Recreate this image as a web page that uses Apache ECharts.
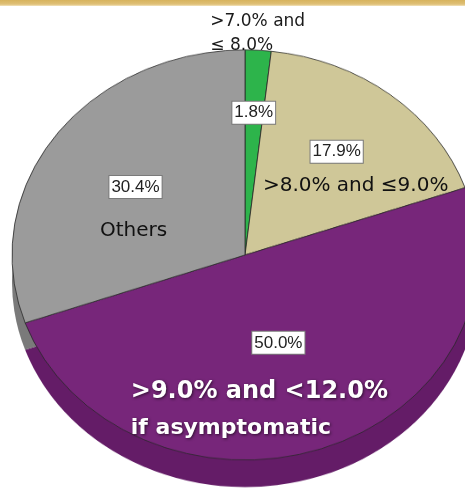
<!DOCTYPE html>
<html><head><meta charset="utf-8">
<script src="https://cdn.jsdelivr.net/npm/echarts@6/dist/echarts.min.js"></script>
<style>
html,body{margin:0;padding:0;background:#fff;overflow:hidden;width:465px;height:490px}
#pie{position:absolute;left:0;top:0;width:465px;height:560px;transform:scaleY(0.88);transform-origin:0 0}
#lab{position:absolute;left:0;top:0;width:465px;height:490px}
</style></head><body>
<div id="pie"></div><div id="lab"></div>
<script>
// ---- data ----
const categories = ['>7.0% and\n≤ 8.0%', '>8.0% and ≤9.0%', '>9.0% and <12.0%\nif asymptomatic', 'Others'];
const shares = [1.8, 17.9, 50.0, 30.4];

// ---- styling ----
const topColors = ['#2db44b', '#cfc798', '#77267a', '#9b9b9b'];
const sideColors = ['#22903a', '#aaa37a', '#641c67', '#7a7a7a'];
const pctOffsets = [[2, -23], [17, -10], [-6, -25], [-12, 1]];
const nameOffsets = [[6, -102], [36, 24], [-25, 42], [-14, 45]];
const nameStyles = [['g', 'g'], ['t'], ['p1', 'p2'], ['t']];

const K = 0.88, CX = 245, CY = 255, R = 233, DEPTH = 27;

const pieChart = echarts.init(document.getElementById('pie'), null, {renderer: 'canvas'});
const labChart = echarts.init(document.getElementById('lab'), null, {renderer: 'canvas'});

function items(colors, border) {
  return categories.map((c, i) => ({
    name: c, value: shares[i],
    itemStyle: {color: colors[i], borderColor: border, borderWidth: border ? 1 : 0}
  }));
}

pieChart.setOption({
  animation: false,
  series: [
    {type: 'pie', z: 1, center: [CX, (CY + DEPTH) / K], radius: [0, R], startAngle: 90, clockwise: true,
     silent: true, emphasis: {disabled: true}, label: {show: false}, labelLine: {show: false},
     data: items(sideColors, null)},
    {type: 'pie', z: 2, center: [CX, CY / K], radius: [0, R], startAngle: 90, clockwise: true,
     silent: true, emphasis: {disabled: true}, label: {show: false}, labelLine: {show: false},
     data: items(topColors, 'rgba(40,40,40,0.8)')}
  ]
});

const shadow = {textShadowColor: 'rgba(0,0,0,0.6)', textShadowBlur: 3, textShadowOffsetX: 1, textShadowOffsetY: 1};

labChart.setOption({
  animation: false,
  graphic: [{
    type: 'rect', left: 0, top: 0, shape: {width: 465, height: 6}, silent: true,
    style: {fill: new echarts.graphic.LinearGradient(0, 0, 0, 1, [
      {offset: 0, color: '#d7b35c'}, {offset: 0.7, color: '#dfc078'}, {offset: 1, color: '#f3e4bd'}])}
  }],
  series: [
    {type: 'pie', center: [CX, CY], radius: [0, R], startAngle: 90, clockwise: true, silent: true,
     emphasis: {disabled: true}, itemStyle: {color: 'rgba(0,0,0,0)', borderWidth: 0}, labelLine: {show: false},
     label: {show: true, position: 'inside', overflow: 'none',
       formatter: p => p.value.toFixed(1) + '%',
       fontFamily: 'Liberation Sans', fontSize: 17, color: '#222',
       backgroundColor: '#fff', borderColor: '#7a7a7a', borderWidth: 1, padding: [3, 2, 2, 2]},
     data: categories.map((c, i) => ({name: c, value: shares[i], label: {offset: pctOffsets[i]}}))},
    {type: 'pie', center: [CX, CY], radius: [0, R], startAngle: 90, clockwise: true, silent: true,
     emphasis: {disabled: true}, itemStyle: {color: 'rgba(0,0,0,0)', borderWidth: 0}, labelLine: {show: false},
     label: {show: true, position: 'inside', overflow: 'none',
       formatter: p => {
         const st = nameStyles[p.dataIndex];
         return p.name.split('\n').map((l, j) => '{' + (st[j] || st[0]) + '|' + l + '}').join('\n');
       },
       rich: {
         g: {fontFamily: 'DejaVu Sans', fontSize: 17, color: '#1a1a1a', lineHeight: 24, align: 'left'},
         t: {fontFamily: 'DejaVu Sans', fontSize: 20, color: '#111', lineHeight: 24},
         p1: Object.assign({fontFamily: 'DejaVu Sans', fontWeight: 'bold', fontSize: 24, color: '#fff', lineHeight: 36, align: 'left'}, shadow),
         p2: Object.assign({fontFamily: 'DejaVu Sans', fontWeight: 'bold', fontSize: 22, color: '#fff', lineHeight: 36, align: 'left'}, shadow)
       }},
     data: categories.map((c, i) => ({name: c, value: shares[i], label: {offset: nameOffsets[i]}}))}
  ]
});
</script>
</body></html>
